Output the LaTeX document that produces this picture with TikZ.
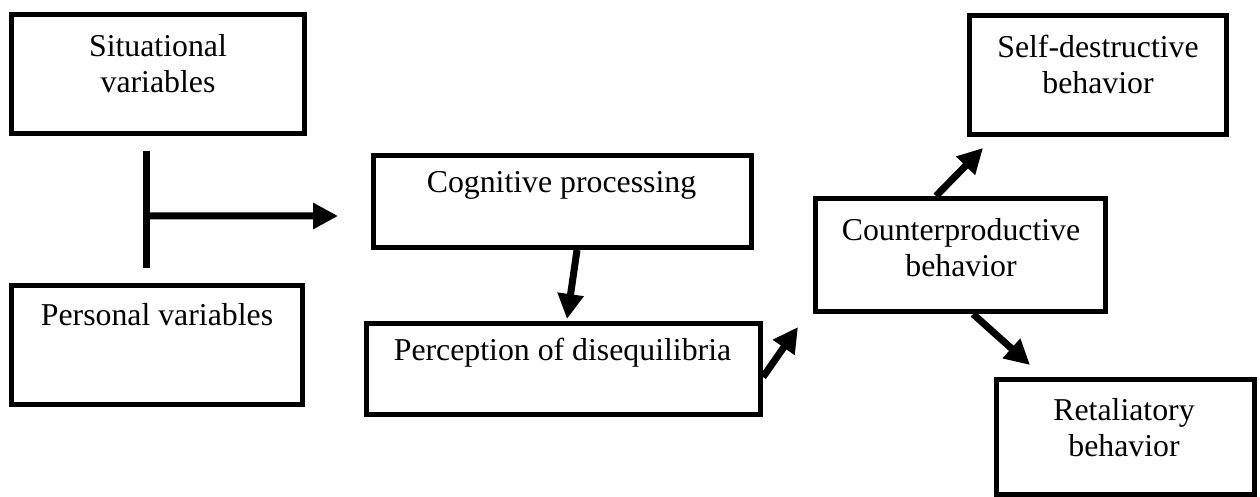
\documentclass[tikz,border=0pt]{standalone}
\usepackage{fontspec}
\setmainfont{Liberation Serif}
\usetikzlibrary{arrows.meta,calc}
\begin{document}
\begin{tikzpicture}[x=1pt,y=-1pt,
  box/.style={draw=black,line width=5pt,minimum width=#1,inner sep=0pt},
  txt/.style={align=center,inner sep=0pt,font=\fontsize{31.8}{36}\selectfont},
  arr/.style={line width=7pt,-{Triangle[length=25pt,width=25pt]}},
  bar/.style={line width=7pt}]
\useasboundingbox (0,0) rectangle (1260,497);
% boxes
\node[box=293pt,minimum height=119pt] (sit) at (158,74) {};
\node[box=291pt,minimum height=119pt] (per) at (157,345) {};
\node[box=378pt,minimum height=92pt] (cog) at (562.5,201.5) {};
\node[box=394pt,minimum height=91pt] (perc) at (563.5,369) {};
\node[box=290pt,minimum height=113pt] (ctr) at (960.5,255) {};
\node[box=257pt,minimum height=119pt] (self) at (1098,75) {};
\node[box=258pt,minimum height=115pt] (ret) at (1125.5,437) {};
% texts
\node[txt] (sitT) at (158,64) {Situational\\variables};
\node[txt] (perT) at (157,315) {Personal variables};
\node[txt] (cogT) at (561.5,185) {Cognitive processing};
\node[txt] (percT) at (562.5,353) {Perception of disequilibria};
\node[txt] (ctrT) at (961,247.5) {Counterproductive\\behavior};
\node[txt] (selfT) at (1098,64.5) {Self-destructive\\behavior};
\node[txt] (retT) at (1124,427.5) {Retaliatory\\behavior};
% T connector
\coordinate (tTop) at ($(sit.south)+(-12,15)$);
\coordinate (tBot) at ($(per.north)+(-11,-15)$);
\coordinate (tMid) at ($(tTop)!0.555!(tBot)$);
\coordinate (tEnd) at ($(cog.west)+(-33,14.5)$);
\draw[bar] (tTop) -- (tBot);
\draw[arr] (tMid) -- (tEnd);
% arrows
\draw[arr] ($(cog.south)+(14.5,0)$) -- ($(perc.north)+(3.5,-2)$);
\draw[arr] ($(perc.east)+(0,8)$) -- ($(ctr.south west)+(-15,13)$);
\draw[arr] ($(ctr.north)+(-24.5,0)$) -- ($(self.south west)+(16,11)$);
\draw[arr] ($(ctr.south)+(12.5,0)$) -- ($(ret.north west)+(36,-12)$);
\end{tikzpicture}
\end{document}
